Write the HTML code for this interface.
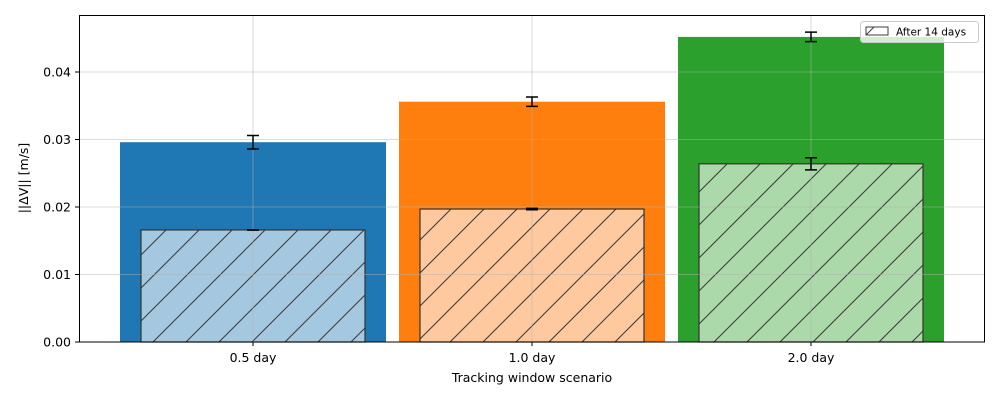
<!DOCTYPE html>
<html><head><meta charset="utf-8"><style>
body{margin:0;background:#fff}
svg{display:block;font-family:"DejaVu Sans","Liberation Sans",sans-serif}
</style></head><body>
<svg id="chart" width="1000" height="400">
<defs>
<pattern id="hatch" patternUnits="userSpaceOnUse" width="33" height="33">
<path d="M-2,35 L35,-2 M-35,35 L35,-35 M0,66 L66,0" stroke="#3d3d3d" stroke-width="1.1"/>
</pattern>
</defs>
<rect x="0" y="0" width="1000" height="400" fill="#fff"/>
<g id="bars"></g>
<g id="inner"></g>
<g id="grid"></g>
<g id="errs"></g>
<rect x="79.5" y="15.5" width="905" height="326.5" fill="none" stroke="#000" stroke-width="1"/>
<g id="axes"></g>
<text x="532" y="382" text-anchor="middle" font-size="12.5">Tracking window scenario</text>
<text transform="translate(28,178) rotate(-90)" text-anchor="middle" font-size="12.5">||ΔV|| [m/s]</text>
<g>
<rect x="860.5" y="21.5" width="118" height="21" rx="3" fill="#fff" fill-opacity="0.8" stroke="#ccc"/>
<rect x="866" y="27" width="22" height="8" fill="#fff" stroke="#3d3d3d"/>
<path d="M866,35 L874,27" stroke="#3d3d3d"/>
<text x="896" y="35.5" font-size="10.5">After 14 days</text>
</g>
</svg>
<script>
const categories = ["0.5 day","1.0 day","2.0 day"];
const totalValues = [0.0296,0.0356,0.0452];
const totalErrors = [0.0010,0.0007,0.0007];
const after14Values = [0.0166,0.0197,0.0264];
const after14Errors = [0.00002,0.0001,0.0009];
const yTicks = [0,0.01,0.02,0.03,0.04];
const yTickLabels = ["0.00","0.01","0.02","0.03","0.04"];
const colors = ["#1f77b4","#ff7f0e","#2ca02c"];
const lightColors = ["#a5c8e1","#ffc99f","#abd9a9"];

const NS="http://www.w3.org/2000/svg";
const y = v => 342 - v*6750;
const x = i => 253 + i*279;
function mk(parent,tag,attrs){const e=document.createElementNS(NS,tag);for(const k in attrs)e.setAttribute(k,attrs[k]);document.getElementById(parent).appendChild(e);return e;}

categories.forEach((c,i)=>{
  const b=mk("bars","rect",{x:x(i)-133,y:y(totalValues[i]),width:266,height:342-y(totalValues[i]),fill:colors[i]});
  
  
});
yTicks.forEach((t,i)=>{
  const g=mk("grid","line",{x1:79,x2:985,y1:y(t),y2:y(t),stroke:"#b0b0b0","stroke-opacity":0.6,"stroke-width":0.8});
  
  
  const tk=mk("axes","line",{x1:75,x2:79,y1:y(t),y2:y(t),stroke:"#000"});
  
  
  const l=mk("axes","text",{x:71,y:y(t)+4.5,"text-anchor":"end","font-size":12.5});
  l.textContent=yTickLabels[i];
  
  
});
categories.forEach((c,i)=>{
  const g=mk("grid","line",{x1:x(i),x2:x(i),y1:15,y2:342,stroke:"#b0b0b0","stroke-opacity":0.6,"stroke-width":0.8});
  
  
  const tk=mk("axes","line",{x1:x(i),x2:x(i),y1:342,y2:346,stroke:"#000"});
  
  
  const l=mk("axes","text",{x:x(i),y:362,"text-anchor":"middle","font-size":12.5});
  l.textContent=c;
  
  
  const h=y(after14Values[i]);
  const r=mk("inner","rect",{x:x(i)-112,y:h,width:224,height:342-h,fill:lightColors[i]});
  
  
  const hr=mk("inner","rect",{x:x(i)-112,y:h,width:224,height:342-h,fill:"url(#hatch)",stroke:"#333","stroke-width":1.2});
  
  
  [[totalValues[i],totalErrors[i]],[after14Values[i],after14Errors[i]]].forEach(([v,e],j)=>{
    const t=y(v+e),b=y(v-e);
    const p=mk("errs","path",{d:`M${x(i)},${t}V${b}M${x(i)-6},${t}H${x(i)+6}M${x(i)-6},${b}H${x(i)+6}`,stroke:"#000","stroke-width":1.5,fill:"none"});
    
    
  });
});
</script>
</body></html>
